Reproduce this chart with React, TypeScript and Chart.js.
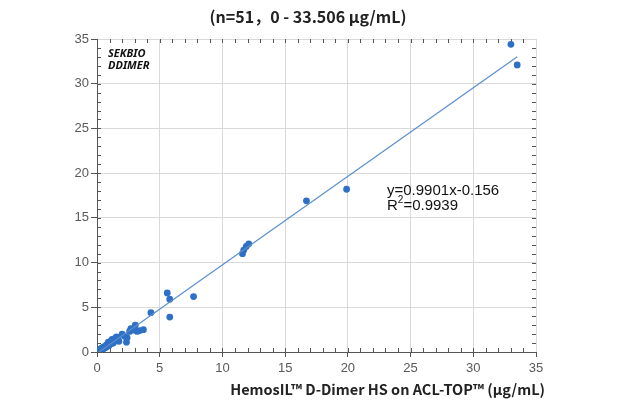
import React, { useEffect, useRef } from "react";
import { Chart, registerables } from "chart.js";

Chart.register(...registerables);

const titleText = "(n=51，0 - 33.506 μg/mL)";
const xAxisTitle = "HemosIL™ D-Dimer HS on ACL-TOP™ (μg/mL)";
const brandLines = ["SEKBIO", "DDIMER"];
const equationText = "y=0.9901x-0.156";
const r2Value = "=0.9939";
const slope = 0.9901;
const intercept = -0.156;
const lineRange = [0, 33.506];
const axisTicks = [0, 5, 10, 15, 20, 25, 30, 35];

const xValues = [
  0.05, 0.1, 0.15, 0.2, 0.25, 0.3, 0.35, 0.4, 0.45, 0.5,
  0.55, 0.6, 0.7, 0.75, 0.8, 0.9, 0.95, 1.0, 1.1, 1.15,
  1.3, 1.4, 1.5, 1.55, 1.65, 1.75, 2.0, 2.2, 2.35, 2.4,
  2.6, 2.7, 2.9, 3.05, 3.2, 3.4, 3.7, 4.3, 1.2,
  5.6, 5.8, 7.7, 5.8, 11.6, 11.7, 11.9, 12.1, 16.7, 19.9, 33.0, 33.5,
];
const yValues = [
  0.05, 0.2, 0.1, 0.3, 0.15, 0.35, 0.25, 0.45, 0.3, 0.55,
  0.4, 0.6, 0.5, 0.8, 0.65, 1.1, 0.7, 0.9, 1.2, 0.95,
  1.0, 1.5, 1.3, 1.7, 1.55, 1.2, 2.0, 1.75, 1.1, 1.6,
  2.3, 2.6, 2.45, 3.0, 2.3, 2.4, 2.5, 4.4, 1.4,
  6.6, 5.9, 6.2, 3.9, 11.0, 11.4, 11.8, 12.1, 16.9, 18.2, 34.4, 32.1,
];

const decorPlugin = {
  id: "decor",
  beforeDatasetsDraw(chart: any) {
    const { ctx, chartArea, scales } = chart;
    const xs = scales.x;
    const ys = scales.y;
    ctx.save();
    ctx.strokeStyle = "#555";
    ctx.lineWidth = 1;
    ctx.beginPath();
    for (let i = 1; i < 35; i++) {
      const px = Math.round(xs.getPixelForValue(i)) + 0.5;
      const py = Math.round(ys.getPixelForValue(i)) + 0.5;
      const len = 4;
      ctx.moveTo(px, chartArea.bottom);
      ctx.lineTo(px, chartArea.bottom - len);
      ctx.moveTo(px, chartArea.top);
      ctx.lineTo(px, chartArea.top + len);
      ctx.moveTo(chartArea.left, py);
      ctx.lineTo(chartArea.left + len, py);
      ctx.moveTo(chartArea.right, py);
      ctx.lineTo(chartArea.right - len, py);
    }
    ctx.stroke();
    ctx.restore();
  },
  afterDraw(chart: any) {
    const { ctx } = chart;
    ctx.save();
    ctx.fillStyle = "#222";
    ctx.textBaseline = "middle";
    ctx.textAlign = "center";
    ctx.font = 'bold 16px "Noto Sans CJK SC", "Noto Sans", sans-serif';
    ctx.fillText(titleText, 308, 17);

    ctx.textAlign = "right";
    ctx.font = 'bold 14.5px "Noto Sans CJK SC", "Noto Sans", sans-serif';
    ctx.fillText(xAxisTitle, 545, 389);

    ctx.textAlign = "left";
    ctx.fillStyle = "#111";
    ctx.font = 'italic bold 11px "Noto Sans", sans-serif';
    ctx.fillText(brandLines[0], 108, 54);
    ctx.fillText(brandLines[1], 108, 66);

    ctx.font = '15px "Liberation Sans", Arial, sans-serif';
    ctx.fillText(equationText, 387, 191);
    ctx.fillText("R", 387, 206);
    const rw = ctx.measureText("R").width;
    ctx.font = '10px "Liberation Sans", Arial, sans-serif';
    ctx.fillText("2", 387 + rw, 200);
    const w2 = ctx.measureText("2").width;
    ctx.font = '15px "Liberation Sans", Arial, sans-serif';
    ctx.fillText(r2Value, 387 + rw + w2, 206);
    ctx.restore();
  },
};

export default function App() {
  const ref = useRef<HTMLCanvasElement>(null);
  useEffect(() => {
    document.body.style.margin = "0";
    const points = xValues.map((x, i) => ({ x, y: yValues[i] }));
    const linePts = lineRange.map((x) => ({ x, y: slope * x + intercept }));
    const tickFont = { family: '"Liberation Sans", Arial, sans-serif', size: 13 };
    const chart = new Chart(ref.current!, {
      type: "scatter",
      data: {
        datasets: [
          {
            type: "line",
            data: linePts,
            borderColor: "#5b8ecb",
            borderWidth: 1.2,
            pointRadius: 0,
            fill: false,
          } as any,
          {
            data: points,
            backgroundColor: "#2e70c6",
            borderColor: "#2e70c6",
            pointRadius: 3.4,
            borderWidth: 0,
          },
        ],
      },
      options: {
        animation: false,
        responsive: false,
        layout: { padding: { top: 39, right: 95, left: 0, bottom: 0 } },
        plugins: { legend: { display: false }, tooltip: { enabled: false }, title: { display: false } },
        scales: {
          x: {
            type: "linear",
            min: 0,
            max: 35,
            afterBuildTicks: (s: any) => { s.ticks = axisTicks.map((v) => ({ value: v })); },
            afterFit: (s: any) => { s.height = 54; },
            ticks: { color: "#595959", font: tickFont, padding: 4, maxRotation: 0 },
            grid: { color: "#d9d9d9", tickColor: "#555", tickLength: 5, drawTicks: true },
            border: { display: true, color: "#555", width: 1 },
          },
          y: {
            type: "linear",
            min: 0,
            max: 35,
            afterBuildTicks: (s: any) => { s.ticks = axisTicks.map((v) => ({ value: v })); },
            afterFit: (s: any) => { s.width = 97; },
            ticks: { color: "#595959", font: tickFont, padding: 2 },
            grid: { color: "#d9d9d9", tickColor: "#555", tickLength: 6, drawTicks: true },
            border: { display: true, color: "#555", width: 1 },
          },
        },
      },
      plugins: [decorPlugin],
    });
    return () => chart.destroy();
  }, []);
  return (
    <div style={{ width: 631, height: 406, background: "#fff" }}>
      <canvas ref={ref} width={631} height={406} />
    </div>
  );
}
